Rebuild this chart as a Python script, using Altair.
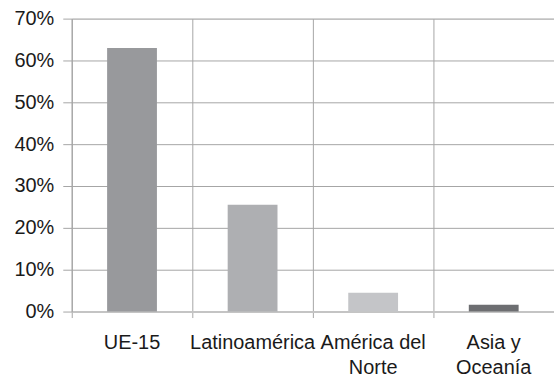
import altair as alt
import pandas as pd

# Share by region of origin
regions = ["UE-15", "Latinoamérica", "América del|Norte", "Asia y|Oceanía"]
shares = [0.63, 0.255, 0.045, 0.016]
bar_colors = ["#98999c", "#aeafb2", "#c4c5c8", "#6d6e71"]

df = pd.DataFrame({"region": regions, "share": shares, "color": bar_colors})

font = "Liberation Sans"

chart = (
    alt.Chart(df)
    .mark_bar(width=50)
    .encode(
        x=alt.X(
            "region:N",
            sort=regions,
            title=None,
            scale=alt.Scale(paddingInner=0, paddingOuter=0),
            axis=alt.Axis(
                labelAngle=0,
                labelExpr="split(datum.label, '|')",
                labelFont=font,
                labelFontSize=20,
                labelColor="#1a1a1a",
                labelLineHeight=25,
                labelPadding=15,
                labelOverlap=False,
                labelLimit=0,
                labelBound=False,
                bandPosition=0,
                grid=True,
                gridColor="#a6a6a6",
                gridWidth=1,
                ticks=True,
                tickSize=6,
                tickColor="#a6a6a6",
                tickWidth=1,
                domainColor="#c4c4c4",
                domainWidth=2,
            ),
        ),
        y=alt.Y(
            "share:Q",
            title=None,
            scale=alt.Scale(domain=[0, 0.7], nice=False),
            axis=alt.Axis(
                format=".0%",
                values=[0, 0.1, 0.2, 0.3, 0.4, 0.5, 0.6, 0.7],
                labelFont=font,
                labelFontSize=20,
                labelColor="#1a1a1a",
                labelPadding=9,
                grid=True,
                gridColor="#a6a6a6",
                gridWidth=1,
                tickSize=9,
                tickColor="#a6a6a6",
                domainColor="#a6a6a6",
                domainWidth=1,
            ),
        ),
        color=alt.Color("color:N", scale=None, legend=None),
    )
    .properties(
        width=484,
        height=294,
        autosize="none",
        padding={"left": 72, "top": 18, "right": 0, "bottom": 65},
    )
    .configure_view(stroke=None)
    .configure(background="white")
)

chart.save("out.html", embed_options={"renderer": "svg", "actions": False})
